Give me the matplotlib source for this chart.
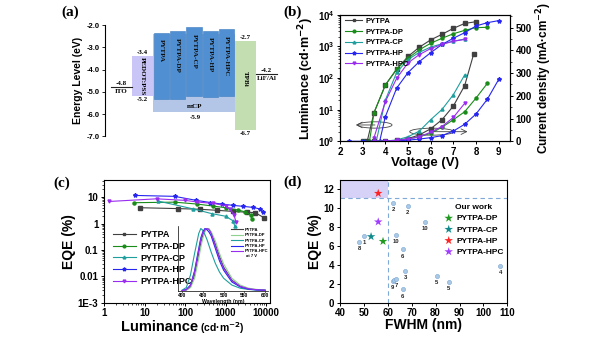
import numpy as np
import matplotlib
matplotlib.use('Agg')
import matplotlib.pyplot as plt
from matplotlib.patches import Rectangle, Ellipse
from matplotlib.ticker import NullFormatter, LogLocator

plt.rcParams['font.family'] = ['Liberation Sans', 'DejaVu Sans']
plt.rcParams['font.weight'] = 'bold'
plt.rcParams['axes.labelweight'] = 'bold'
plt.rcParams['mathtext.default'] = 'bf'
plt.rcParams['axes.linewidth'] = 0.8
plt.rcParams['xtick.direction'] = 'out'
plt.rcParams['ytick.direction'] = 'out'

SERIF = ['Liberation Serif', 'DejaVu Serif']

# ---------------- (a) energy levels ----------------
ito_level = -4.8
lif_level = -4.2
pedot_lumo, pedot_homo = -3.4, -5.2
mcp_lumo, mcp_homo = -2.4, -5.9
tpbi_lumo, tpbi_homo = -2.7, -6.7
emitters = ['PYTPA', 'PYTPA-DP', 'PYTPA-CP', 'PYTPA-HP', 'PYTPA-HPC']
emit_lumo = [-2.33, -2.26, -2.08, -2.24, -2.18]
emit_homo = [-5.30, -5.30, -5.17, -5.23, -5.17]

# ---------------- (b) L-J-V ----------------
names = ['PYTPA', 'PYTPA-DP', 'PYTPA-CP', 'PYTPA-HP', 'PYTPA-HPC']
colors = ['#404040', '#1a8c1a', '#1f9e9e', '#2626f0', '#9a2cf0']
markers = ['s', 'o', '^', '*', 'v']

lum_v = [
    [3.2, 3.5, 4, 4.5, 5, 5.5, 6, 6.5, 7, 7.5, 8],
    [3.3, 3.5, 4, 4.5, 5, 5.5, 6, 6.5, 7, 7.5, 8, 8.5],
    [3.6, 4, 4.5, 5, 5.5, 6, 6.5, 7, 7.5],
    [3.75, 4, 4.5, 5, 5.5, 6, 6.5, 7, 7.5, 8, 8.5, 9],
    [3.5, 4, 4.5, 5, 5.5, 6, 6.5, 7, 7.5],
]
lum_l = [
    [1, 8, 60, 190, 480, 940, 1600, 2400, 3700, 5300, 6000],
    [1, 8, 60, 190, 420, 780, 1250, 1800, 2500, 3200, 3900, 4000],
    [1, 20, 150, 380, 650, 950, 1200, 1450, 1700],
    [1, 6, 48, 148, 330, 630, 1150, 1800, 2700, 4400, 5600, 6500],
    [1.3, 18, 98, 300, 550, 850, 1150, 1450, 1650],
]
cur_v = [
    [3, 3.5, 4, 4.5, 5, 5.5, 6, 6.5, 7, 7.5, 7.9],
    [3, 3.5, 4, 4.5, 5, 5.5, 6, 6.5, 7, 7.5, 8, 8.5],
    [3.5, 4, 4.5, 5, 5.5, 6, 6.5, 7, 7.5],
    [2.4, 3, 3.5, 4, 4.5, 5, 5.5, 6, 6.5, 7, 7.5, 8, 8.5, 9],
    [3.5, 4, 4.5, 5, 5.5, 6, 6.5, 7, 7.5],
]
cur_j = [
    [0, 0, 1, 4, 12, 28, 55, 95, 155, 245, 385],
    [0, 0, 0.5, 3, 10, 20, 35, 62, 95, 130, 190, 255],
    [0, 1, 6, 20, 45, 95, 140, 205, 292],
    [0, 0, 0, 0, 2, 5, 10, 16, 25, 45, 75, 120, 185, 272],
    [0, 1, 4, 10, 20, 40, 65, 105, 167],
]

# ---------------- (c) EQE-L ----------------
eqe_l = [
    [7.7, 68, 230, 600, 1500, 3300, 5400, 8700],
    [5.5, 55, 200, 500, 1000, 2000, 3000, 4200, 4400],
    [22, 160, 450, 1000, 1500, 1700],
    [5.8, 55, 190, 420, 800, 1550, 2750, 4800, 7000, 8500],
    [1.35, 20, 100, 200, 500, 1000, 1300, 1600, 1800],
]
eqe_val = [
    [4.0, 3.7, 3.5, 3.2, 2.9, 2.7, 2.6, 1.7],
    [6.2, 6.5, 5.5, 4.6, 4.0, 3.3, 2.8, 2.1, 1.5],
    [7.1, 3.6, 2.4, 1.9, 1.3, 0.8],
    [11.7, 10.8, 7.6, 6.3, 5.5, 4.9, 4.5, 4.1, 3.6, 2.8],
    [6.9, 8.7, 7.6, 6.6, 5.8, 4.8, 3.5, 2.2, 1.2],
]

# EL spectra at 7 V (inset)
wl = [400, 410, 420, 430, 440, 445, 450, 455, 460, 465, 470, 480, 490, 500, 520, 540, 560, 580, 600]
el = [
    [0.0, 0.01, 0.06, 0.25, 0.6, 0.77, 0.9, 0.97, 1.0, 0.99, 0.93, 0.75, 0.55, 0.38, 0.17, 0.07, 0.03, 0.015, 0.01],
    [0.0, 0.01, 0.05, 0.2, 0.52, 0.7, 0.85, 0.95, 1.0, 0.99, 0.95, 0.8, 0.6, 0.43, 0.2, 0.09, 0.04, 0.02, 0.01],
    [0.01, 0.05, 0.25, 0.6, 0.92, 1.0, 0.97, 0.9, 0.82, 0.72, 0.62, 0.44, 0.3, 0.2, 0.09, 0.04, 0.02, 0.01, 0.005],
    [0.0, 0.02, 0.09, 0.32, 0.68, 0.85, 0.95, 1.0, 0.98, 0.94, 0.88, 0.68, 0.48, 0.33, 0.14, 0.06, 0.025, 0.012, 0.006],
    [0.0, 0.015, 0.08, 0.3, 0.65, 0.82, 0.93, 0.98, 1.0, 0.98, 0.92, 0.72, 0.52, 0.36, 0.16, 0.07, 0.03, 0.015, 0.008],
]
el_colors = ['#404040', '#8fd18f', '#1f9e9e', '#2626f0', '#9a2cf0']

# ---------------- (d) EQE vs FWHM ----------------
lit_fwhm = [62.3, 68.3, 75.6, 63.3, 50.2, 48.1, 66.2, 67.3, 80.4, 85.6, 62.0, 62.6, 63.4, 66.2, 107]
lit_eqe = [10.5, 10.2, 8.5, 7.1, 7.0, 6.4, 5.6, 3.3, 2.8, 2.2, 2.27, 2.41, 2.52, 1.4, 3.85]
lit_ref = ['2', '2', '10', '10', '1', '8', '6', '3', '5', '5', '9', '', '7', '6', '4']
our_names = ['PYTPA-DP', 'PYTPA-CP', 'PYTPA-HP', 'PYTPA-HPC']
our_fwhm = [58, 53, 56, 56]
our_eqe = [6.45, 6.95, 11.5, 8.5]
our_colors = ['#1f9a1f', '#108a8a', '#ff2222', '#a03cff']

W, H = 600, 338
fig = plt.figure(figsize=(6, 3.38), dpi=100)


def box(l, t, r, b):
    return [l / W, 1 - b / H, (r - l) / W, (b - t) / H]


# ===== (a) =====
ax = fig.add_axes(box(105, 25.3, 285, 136.3))
ax.set_xlim(0, 180)
ax.set_ylim(-7, -2)
for s in ['top', 'right', 'bottom']:
    ax.spines[s].set_visible(False)
ax.set_xticks([])
ax.set_yticks(np.arange(-7, -1.9, 1.0))
ax.set_yticklabels([f'{v:.1f}' for v in np.arange(-7, -1.9, 1.0)], fontsize=5.5)
ax.tick_params(axis='y', length=2, width=0.6, pad=1.5)
ax.set_ylabel('Energy Level (eV)', fontsize=7.5, labelpad=3)

tfs = 5
ax.add_patch(Rectangle((48, mcp_homo), 82, mcp_lumo - mcp_homo, fc='#b3c6e8', ec='none'))
ax.add_patch(Rectangle((27, pedot_homo), 21, pedot_lumo - pedot_homo, fc='#c9c5f7', ec='none'))
ax.add_patch(Rectangle((130, tpbi_homo), 21, tpbi_lumo - tpbi_homo, fc='#c3deb0', ec='none'))
for i, (nm, lu, ho) in enumerate(zip(emitters, emit_lumo, emit_homo)):
    x0 = 49 + i * 16.2
    ax.add_patch(Rectangle((x0, ho), 15.2, lu - ho, fc='#4f8fd2', ec='#3d7cc0', lw=0.4))
    ax.text(x0 + 7.6, lu - 0.3, nm, rotation=270, ha='center', va='top',
            fontsize=tfs, family=SERIF, color='#111111')
ax.plot([6, 27], [ito_level] * 2, color='#222222', lw=0.8)
ax.plot([151, 172], [lif_level] * 2, color='#222222', lw=0.8)
ax.text(16.5, ito_level + 0.05, f'{ito_level:.1f}', ha='center', va='bottom', fontsize=tfs, family=SERIF)
ax.text(16.5, ito_level - 0.08, 'ITO', ha='center', va='top', fontsize=tfs, family=SERIF)
ax.text(161.5, lif_level + 0.05, f'{lif_level:.1f}', ha='center', va='bottom', fontsize=tfs, family=SERIF)
ax.text(161.5, lif_level - 0.08, 'LiF/Al', ha='center', va='top', fontsize=tfs, family=SERIF)
ax.text(37.5, pedot_lumo + 0.05, f'{pedot_lumo:.1f}', ha='center', va='bottom', fontsize=tfs, family=SERIF)
ax.text(37.5, pedot_homo - 0.05, f'{pedot_homo:.1f}', ha='center', va='top', fontsize=tfs, family=SERIF)
ax.text(37.5, (pedot_lumo + pedot_homo) / 2, 'PEDOT:PSS', rotation=270, ha='center', va='center',
        fontsize=tfs, family=SERIF)
ax.text(90, mcp_homo + 0.25, 'mCP', ha='center', va='center', fontsize=tfs, family=SERIF)
ax.text(90, mcp_homo - 0.12, f'{mcp_homo:.1f}', ha='center', va='top', fontsize=tfs, family=SERIF)
ax.text(140.5, tpbi_lumo + 0.05, f'{tpbi_lumo:.1f}', ha='center', va='bottom', fontsize=tfs, family=SERIF)
ax.text(140.5, tpbi_homo - 0.05, f'{tpbi_homo:.1f}', ha='center', va='top', fontsize=tfs, family=SERIF)
ax.text(140.5, -4.4, 'TPBi', rotation=270, ha='center', va='center', fontsize=tfs, family=SERIF)

# ===== (b) =====
axb = fig.add_axes(box(340, 14.7, 510, 141.3))
axb2 = axb.twinx()
axb.set_yscale('log')
axb.set_xlim(2, 9.5)
axb.set_ylim(1, 1e4)
axb2.set_ylim(0, 557)
for i in range(5):
    axb.plot(lum_v[i], lum_l[i], color=colors[i], marker=markers[i], ms=3 if markers[i] == '*' else 2.2,
             lw=0.8, label=names[i])
    axb2.plot(cur_v[i], cur_j[i], color=colors[i], marker=markers[i], ms=3 if markers[i] == '*' else 2.2,
              lw=0.8)
axb.set_xticks(range(2, 10))
axb.yaxis.set_major_locator(LogLocator(base=10, numticks=6))
axb.yaxis.set_minor_locator(LogLocator(base=10, subs=np.arange(2, 10), numticks=20))
axb.yaxis.set_minor_formatter(NullFormatter())
axb2.set_yticks(range(0, 501, 100))
axb2.yaxis.set_minor_locator(matplotlib.ticker.MultipleLocator(50))
for a in (axb, axb2):
    a.tick_params(labelsize=7, length=2.5, width=0.7, pad=1.5)
    a.tick_params(which='minor', length=1.5, width=0.5)
axb.set_xlabel('Voltage (V)', fontsize=9.5, labelpad=0)
axb.set_ylabel('Luminance (cd·m$^{-2}$)', fontsize=9, labelpad=1)
axb2.set_ylabel('Current density (mA·cm$^{-2}$)', fontsize=8.5, labelpad=2)
axb.legend(loc='upper left', bbox_to_anchor=(0.0, 1.02), fontsize=5.5, frameon=False,
           handlelength=2.2, handletextpad=0.5, labelspacing=0.45, borderaxespad=0.3, markerscale=0.9)
axb.add_patch(Ellipse((0.206, 0.129), 0.2, 0.05, transform=axb.transAxes, fill=False, ec='#444444', lw=0.6))
axb.annotate('', xy=(0.093, 0.129), xytext=(0.206, 0.129), xycoords='axes fraction',
             arrowprops=dict(arrowstyle='->', lw=0.6, color='#444444', shrinkA=0, shrinkB=0))
axb.add_patch(Ellipse((0.54, 0.076), 0.26, 0.055, transform=axb.transAxes, fill=False, ec='#444444', lw=0.6))
axb.annotate('', xy=(0.75, 0.076), xytext=(0.54, 0.076), xycoords='axes fraction',
             arrowprops=dict(arrowstyle='->', lw=0.6, color='#444444', shrinkA=0, shrinkB=0))

# ===== (c) =====
axc = fig.add_axes(box(104, 180, 270, 302.7))
axc.set_xscale('log')
axc.set_yscale('log')
axc.set_xlim(1, 1.25e4)
axc.set_ylim(1e-3, 45)
for i in range(5):
    axc.plot(eqe_l[i], eqe_val[i], color=colors[i], marker=markers[i], ms=3 if markers[i] == '*' else 2.2,
             lw=0.8, label=names[i])
axc.set_xticks([1, 10, 100, 1000, 10000])
axc.set_xticklabels(['1', '10', '100', '1000', '10000'])
axc.set_yticks([1e-3, 1e-2, 1e-1, 1, 10])
axc.set_yticklabels(['1E-3', '0.01', '0.1', '1', '10'])
axc.xaxis.set_minor_locator(LogLocator(base=10, subs=np.arange(2, 10), numticks=20))
axc.yaxis.set_minor_locator(LogLocator(base=10, subs=np.arange(2, 10), numticks=20))
axc.xaxis.set_minor_formatter(NullFormatter())
axc.yaxis.set_minor_formatter(NullFormatter())
axc.tick_params(labelsize=7, length=2.5, width=0.7, pad=1.5)
axc.tick_params(which='minor', length=1.5, width=0.5)
axc.set_ylabel('EQE (%)', fontsize=10, labelpad=1)
fig.text(198 / W, 1 - 327 / H, 'Luminance', ha='right', va='center', fontsize=10.5)
fig.text(200 / W, 1 - 328 / H, '(cd·m$^{-2}$)', ha='left', va='center', fontsize=7.5)
axc.legend(loc='upper left', bbox_to_anchor=(0.03, 0.62), fontsize=6.5, frameon=False,
           handlelength=2.6, handletextpad=0.5, labelspacing=0.3, borderaxespad=0, markerscale=0.9)

axi = fig.add_axes(box(178, 226, 268, 290.7))
axi.patch.set_alpha(0)
for i in range(5):
    axi.plot(wl, el[i], color=el_colors[i], lw=0.8, label=names[i])
axi.set_xlim(390, 607)
axi.set_ylim(0, 1.04)
axi.set_yticks([])
axi.set_xticks([400, 450, 500, 550, 600])
axi.tick_params(labelsize=3.5, length=1.2, width=0.4, pad=0.5)
for s in ['top', 'right']:
    axi.spines[s].set_visible(False)
axi.spines['bottom'].set_linewidth(0.5)
axi.spines['left'].set_linewidth(0.5)
axi.set_xlabel('Wavelength (nm)', fontsize=3.8, labelpad=0.5)
axi.legend(loc='upper right', bbox_to_anchor=(1.02, 1.0), fontsize=3, frameon=False,
           handlelength=2.8, handletextpad=0.4, labelspacing=0.35, borderaxespad=0)
axi.text(0.82, 0.52, 'at 7 V', transform=axi.transAxes, fontsize=3, ha='center')

# ===== (d) =====
axd = fig.add_axes(box(340, 180, 507.3, 302.7))
axd.set_xlim(40, 110)
axd.set_ylim(0, 12.9)
axd.add_patch(Rectangle((40, 11), 20, 1.9, fc='#d5d1f7', ec='none', zorder=0))
axd.axvline(60, ls=(0, (4, 3)), color='#7fa9d6', lw=0.8, zorder=1)
axd.axhline(11, ls=(0, (4, 3)), color='#7fa9d6', lw=0.8, zorder=1)
axd.scatter(lit_fwhm, lit_eqe, s=9, c='#a9c9e6', edgecolors='#7aa6d2', linewidths=0.4, zorder=3)
for x, y, r in zip(lit_fwhm, lit_eqe, lit_ref):
    axd.annotate(r, (x, y), xytext=(0, -3), textcoords='offset points', ha='center', va='top',
                 fontsize=4.2, color='#222222')
for n, x, y, c in zip(our_names, our_fwhm, our_eqe, our_colors):
    axd.scatter([x], [y], s=42, marker='*', c=c, edgecolors='none', zorder=4, label=n)
axd.set_xticks(range(40, 111, 10))
axd.set_yticks(range(0, 13, 2))
axd.tick_params(labelsize=7, length=2.5, width=0.7, pad=1.5)
axd.set_xlabel('FWHM (nm)', fontsize=10, labelpad=0)
axd.set_ylabel('EQE (%)', fontsize=10, labelpad=1)
lg = axd.legend(loc='upper left', bbox_to_anchor=(0.6, 0.83), fontsize=6, frameon=False,
                title='Our work', title_fontsize=6, handletextpad=0.3, labelspacing=0.4,
                borderaxespad=0, handlelength=1.2)
lg.get_title().set_fontweight('bold')

# panel letters
for lab, x, y in [('(a)', 70, 12), ('(b)', 293, 12), ('(c)', 62, 183), ('(d)', 293, 182)]:
    fig.text(x / W, 1 - y / H, lab, ha='center', va='center', fontsize=11, family=SERIF, weight='bold')

fig.savefig('out.png', dpi=100)
